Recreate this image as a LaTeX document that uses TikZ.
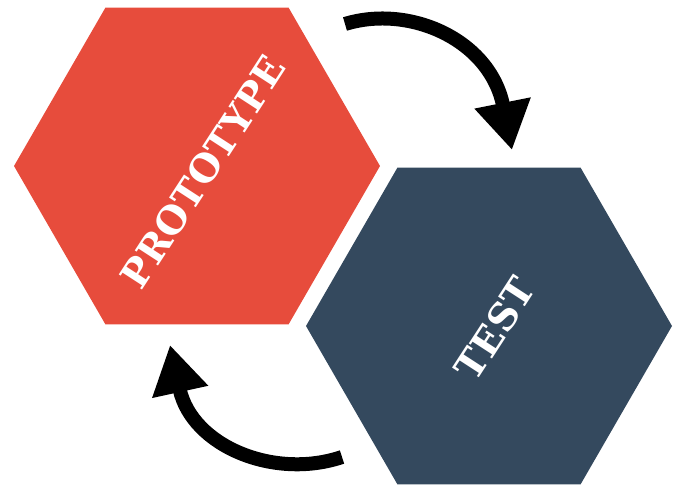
\documentclass[tikz,border=0pt]{standalone}
\usepackage{fontspec}
\setmainfont{DejaVu Serif}
\usepackage{xcolor}
\usepackage{tikz}
\usetikzlibrary{
	arrows.meta,shapes.geometric
}
\definecolor{protored}{RGB}{231,76,60}
\definecolor{testblue}{RGB}{52,73,94}
\tikzset{
	hexa/.style={regular polygon,regular polygon sides=6,minimum size=366pt,inner sep=0pt,draw=none},
	hexlabel/.style={text=white,font=\bfseries\fontsize{38}{38}\selectfont,rotate=57,inner sep=0pt},
	loop arrow/.style={line width=14pt,-{Triangle[width=54pt,length=48pt]}}
}

\begin{document}
\begin{tikzpicture}[x=1pt,y=-1pt]
		\useasboundingbox (0,0) rectangle (673,491);
		\node[hexa,fill=protored] (P) at (197,166) {};
		\node[hexa,fill=testblue] (T) at (489,326) {};
		
		\node[hexlabel] (Plabel) at (203,172) {PROTOTYPE};
		\node[hexlabel] (Tlabel) at (495,329) {TEST};
		%
		\coordinate (Pout) at (345,24);
		\coordinate (Tin) at (512,150);
		\coordinate (Tout) at (342,457);
		\coordinate (Pin) at (170,345);
		
		\draw[loop arrow] (Pout) .. controls (410,4) and (490,40) .. (Tin);
		\draw[loop arrow] (Tout) .. controls (274,480) and (192,446) .. (Pin);
		
	\end{tikzpicture}
\end{document}
